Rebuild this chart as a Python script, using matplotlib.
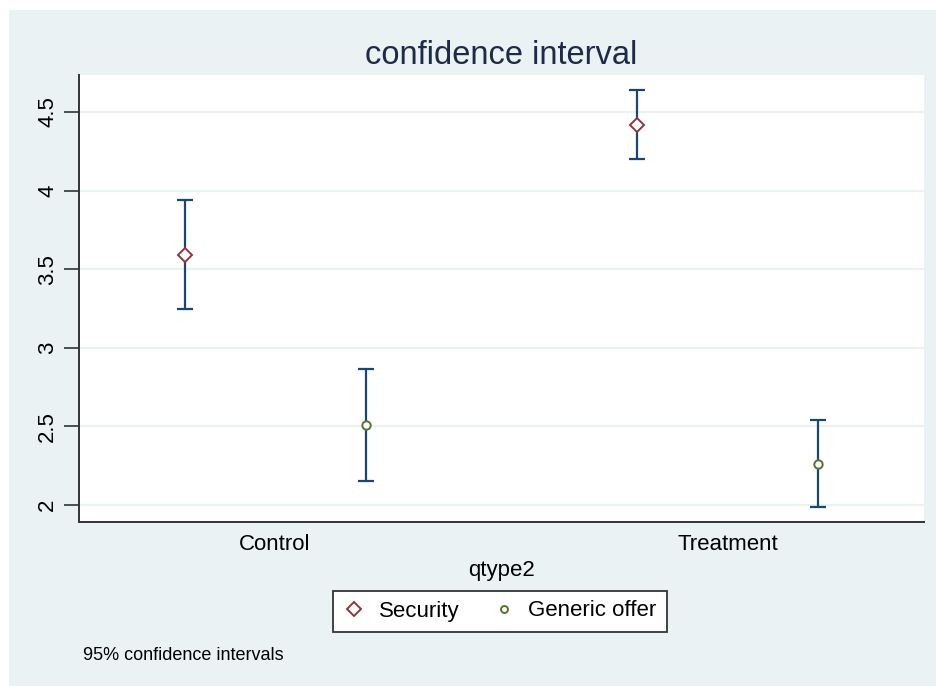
import matplotlib
matplotlib.use("Agg")
import matplotlib.pyplot as plt
from matplotlib.patches import Rectangle
from matplotlib.lines import Line2D

plt.rcParams['font.family'] = ['Liberation Sans', 'DejaVu Sans']

##### DATA #####
groups      = ["Control", "Treatment"]
series      = ["Security", "Generic offer"]
# mean, lower and upper bound of the 95% CI per group
sec_mean    = [3.59, 4.417]
sec_lo      = [3.247, 4.20]
sec_hi      = [3.938, 4.639]
gen_mean    = [2.506, 2.261]
gen_lo      = [2.153, 1.988]
gen_hi      = [2.867, 2.541]
yticks      = [2, 2.5, 3, 3.5, 4, 4.5]
ytick_lbl   = ["2", "2.5", "3", "3.5", "4", "4.5"]

##### STYLE #####
bg_col      = "#EAF2F3"
bar_col     = "#1A476F"
sec_col     = "#90353B"
gen_col     = "#55752F"
title_col   = "#1E2A4A"
offset      = 0.2

fig = plt.figure(figsize=(9.36, 6.86), dpi=100)
fig.patch.set_facecolor("white")
# light stata-like background (small white margin top/left)
fig.patches.append(Rectangle((9/936, 0), 1, 1 - 10/686, transform=fig.transFigure,
                             facecolor=bg_col, edgecolor="none", zorder=-1))

ax = fig.add_axes([79/936, 1 - 522/686, (924 - 79)/936, (522 - 75)/686])
ax.set_facecolor("white")

x_sec = [i - offset for i in range(len(groups))]
x_gen = [i + offset for i in range(len(groups))]

# error bars
err_sec = [[m - l for m, l in zip(sec_mean, sec_lo)], [h - m for m, h in zip(sec_mean, sec_hi)]]
err_gen = [[m - l for m, l in zip(gen_mean, gen_lo)], [h - m for m, h in zip(gen_mean, gen_hi)]]
ax.errorbar(x_sec, sec_mean, yerr=err_sec, fmt='none', ecolor=bar_col, elinewidth=1.6,
            capsize=6, capthick=1.6, zorder=2)
ax.errorbar(x_gen, gen_mean, yerr=err_gen, fmt='none', ecolor=bar_col, elinewidth=1.6,
            capsize=6, capthick=1.6, zorder=2)
# markers
ax.plot(x_sec, sec_mean, 'D', markersize=7, markerfacecolor='white', markeredgecolor=sec_col,
        markeredgewidth=1.4, linestyle='none', zorder=3)
ax.plot(x_gen, gen_mean, 'o', markersize=6, markerfacecolor='white', markeredgecolor=gen_col,
        markeredgewidth=1.4, linestyle='none', zorder=3)

# axes
ax.set_xlim(-0.433, 1.433)
ax.set_ylim(1.892, 4.735)
ax.set_yticks(yticks)
ax.set_yticklabels(ytick_lbl, rotation=90, va='center', fontsize=16)
ax.set_xticks(range(len(groups)))
ax.set_xticklabels(groups, fontsize=16)
ax.tick_params(axis='x', length=0, pad=9)
ax.tick_params(axis='y', length=11, width=1.2, color='#333333', pad=4)
ax.grid(axis='y', color=bg_col, linewidth=1.6)
ax.set_axisbelow(True)
for s in ['top', 'right']:
    ax.spines[s].set_visible(False)
for s in ['left', 'bottom']:
    ax.spines[s].set_color('#333333')
    ax.spines[s].set_linewidth(1.4)
ax.set_xlabel("qtype2", fontsize=16, labelpad=3)

# title
fig.text(501/936, 1 - 55/686, "confidence interval", ha='center', va='center',
         fontsize=23.5, color=title_col)

# legend
handles = [Line2D([], [], marker='D', markersize=7, markerfacecolor='white', markeredgecolor=sec_col,
                  markeredgewidth=1.4, linestyle='none'),
           Line2D([], [], marker='o', markersize=5, markerfacecolor='white', markeredgecolor=gen_col,
                  markeredgewidth=1.4, linestyle='none')]
leg = fig.legend(handles, series, loc='center', bbox_to_anchor=(500/936, 1 - 611/686), ncol=2,
                 fontsize=16, frameon=True, fancybox=False, framealpha=1, facecolor='white',
                 handlelength=1.0, handletextpad=0.6, columnspacing=1.5, borderpad=0.45,
                 borderaxespad=0, edgecolor='#333333')
leg.get_frame().set_linewidth(1.3)

# note
fig.text(83/936, 1 - 655/686, "95% confidence intervals", ha='left', va='center', fontsize=13)

plt.savefig("out.png", dpi=100)
plt.close()
